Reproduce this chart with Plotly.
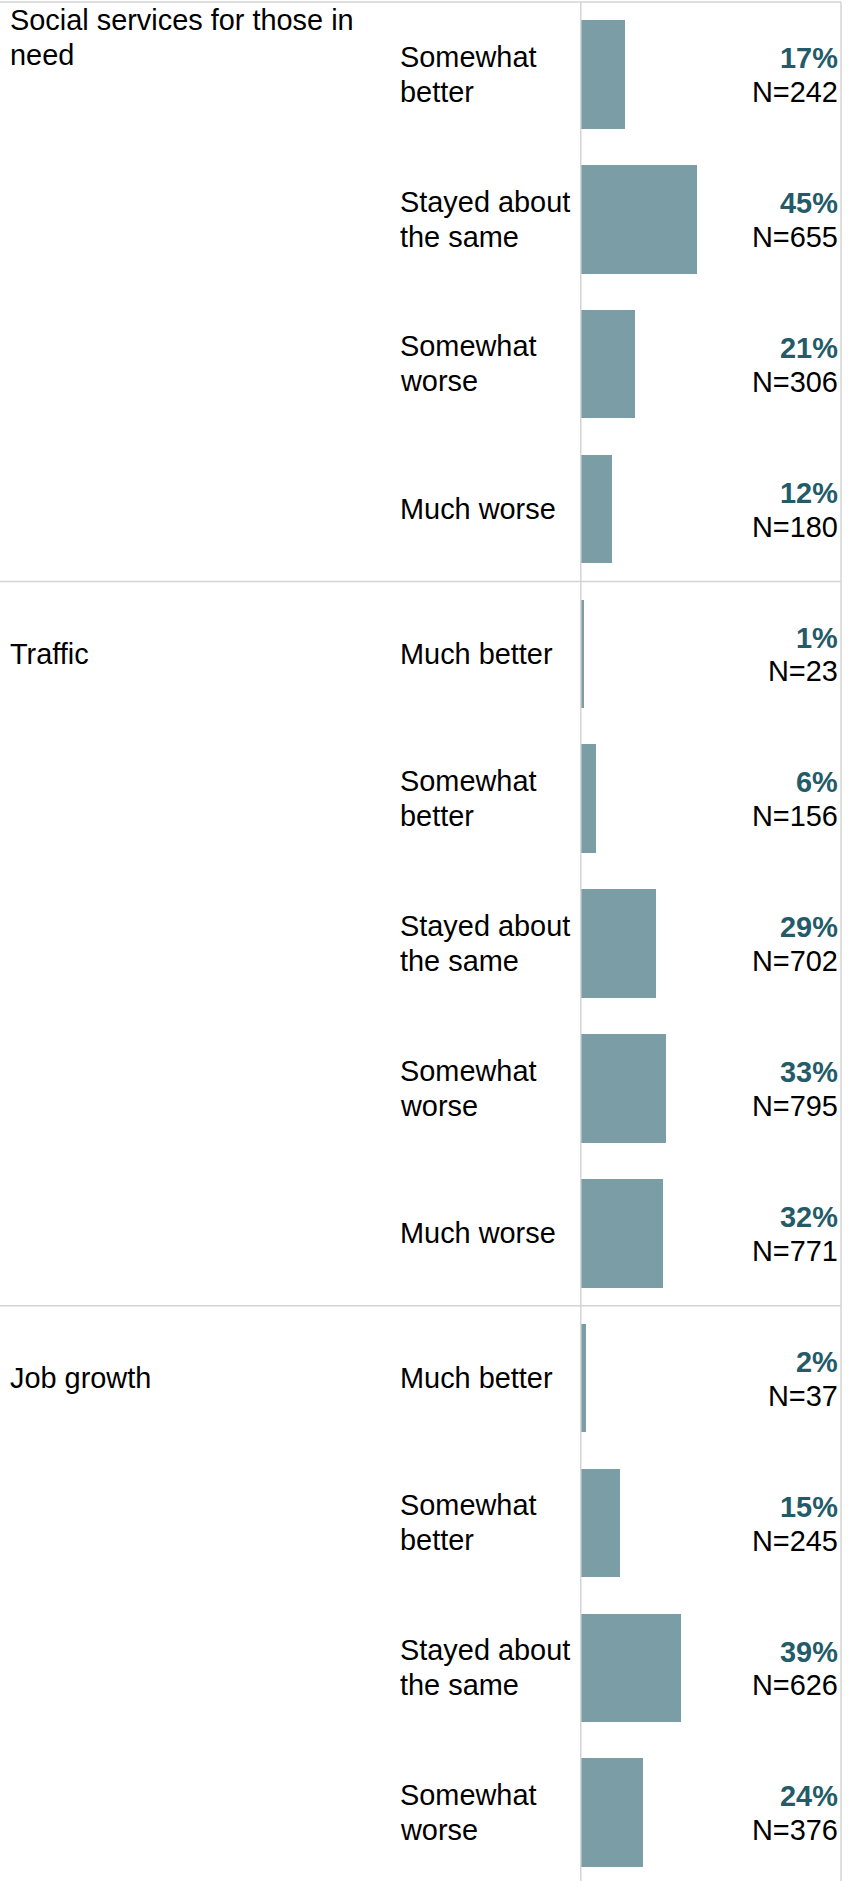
import textwrap
import plotly.graph_objects as go

# ---------------- data ----------------
groups = ["Social services for those in need", "Traffic", "Job growth"]

social_cats = ["Somewhat better", "Stayed about the same", "Somewhat worse", "Much worse"]
social_pct = [17, 45, 21, 12]
social_n = [242, 655, 306, 180]

traffic_cats = ["Much better", "Somewhat better", "Stayed about the same", "Somewhat worse", "Much worse"]
traffic_pct = [1, 6, 29, 33, 32]
traffic_n = [23, 156, 702, 795, 771]

job_cats = ["Much better", "Somewhat better", "Stayed about the same", "Somewhat worse"]
job_pct = [2, 15, 39, 24]
job_n = [37, 245, 626, 376]

# ---------------- layout constants ----------------
W, H = 852, 1881
ROW = 144.86          # px per row
TOP = 2.0             # px of top border
FONT = "Liberation Sans, Arial, Helvetica, sans-serif"
FS = 28.9
LINE = 35.0
BAR_COLOR = "#7b9da5"
PCT_COLOR = "#235b69"
GRID = "#d4d4d4"
X_DIV = 580.8
X_RIGHT = 841.0

group_data = [
    (groups[0], social_cats, social_pct, social_n),
    (groups[1], traffic_cats, traffic_pct, traffic_n),
    (groups[2], job_cats, job_pct, job_n),
]

rows_y, rows_pct, rows_cat, rows_n = [], [], [], []
group_start = []
r = 0
for g, cats, pcts, ns in group_data:
    group_start.append(r)
    for c, p, n in zip(cats, pcts, ns):
        rows_y.append(r)
        rows_pct.append(p)
        rows_cat.append(c)
        rows_n.append(n)
        r += 1
n_rows = r

y_top = -0.5 - TOP / ROW
y_bot = y_top + H / ROW

fig = go.Figure()
fig.add_trace(go.Bar(
    x=rows_pct, y=rows_y, orientation="h", width=0.75,
    marker=dict(color=BAR_COLOR, line=dict(width=0)),
    hoverinfo="skip", showlegend=False,
))

px = lambda v: v / W
ann = []
# sub-category labels
for y, c in zip(rows_y, rows_cat):
    lines = textwrap.wrap(c, 12)
    k = len(lines)
    for i, ln in enumerate(lines):
        off = (i - (k - 1) / 2) * LINE - (0.2 if k > 1 else 0)
        ann.append(dict(x=px(399.5), xref="paper", y=y, yref="y", yshift=-off,
                        text=ln, showarrow=False, xanchor="left", yanchor="middle",
                        font=dict(family=FONT, size=FS, color="#000000"),
                        borderpad=0, borderwidth=0))
# percent and N labels
for y, p, n in zip(rows_y, rows_pct, rows_n):
    ann.append(dict(x=px(837.5), xref="paper", y=y, yref="y", yshift=16.3,
                    text="<b>%d%%</b>" % p, showarrow=False, xanchor="right", yanchor="middle",
                    font=dict(family=FONT, size=FS, color=PCT_COLOR),
                    borderpad=0, borderwidth=0))
    ann.append(dict(x=px(837.5), xref="paper", y=y, yref="y", yshift=-17.6,
                    text="N=%d" % n, showarrow=False, xanchor="right", yanchor="middle",
                    font=dict(family=FONT, size=FS, color="#000000"),
                    borderpad=0, borderwidth=0))
# group labels
for (g, cats, _, _), s in zip(group_data, group_start):
    lines = textwrap.wrap(g, 28)
    k = len(lines)
    for i, ln in enumerate(lines):
        if k > 1:
            y = s - 0.5
            shift = -(17.7 + i * LINE)
        else:
            y = s
            shift = 0
        ann.append(dict(x=px(10), xref="paper", y=y, yref="y", yshift=shift,
                        text=ln, showarrow=False, xanchor="left", yanchor="middle",
                        font=dict(family=FONT, size=FS, color="#000000"),
                        borderpad=0, borderwidth=0))

shapes = []
# top border and group separators
for s in group_start:
    shapes.append(dict(type="line", xref="paper", yref="y", x0=0, x1=px(X_RIGHT),
                       y0=s - 0.5, y1=s - 0.5, line=dict(color=GRID, width=1.5)))
# vertical divider and right border
for xv in (X_DIV, X_RIGHT):
    shapes.append(dict(type="line", xref="paper", yref="y", x0=px(xv), x1=px(xv),
                       y0=-0.5, y1=n_rows + 1, line=dict(color=GRID, width=1.5)))

fig.update_layout(
    width=W, height=H,
    margin=dict(l=0, r=0, t=0, b=0),
    paper_bgcolor="white", plot_bgcolor="white",
    xaxis=dict(domain=[px(X_DIV), px(X_RIGHT)], range=[0, 101], visible=False, fixedrange=True),
    yaxis=dict(range=[y_bot, y_top], visible=False, fixedrange=True),
    annotations=ann, shapes=shapes,
    bargap=0,
)
fig.write_html(
    "out.html",
    config={"displayModeBar": False},
    post_script="document.body.style.margin='0';document.body.style.overflow='hidden';",
)
